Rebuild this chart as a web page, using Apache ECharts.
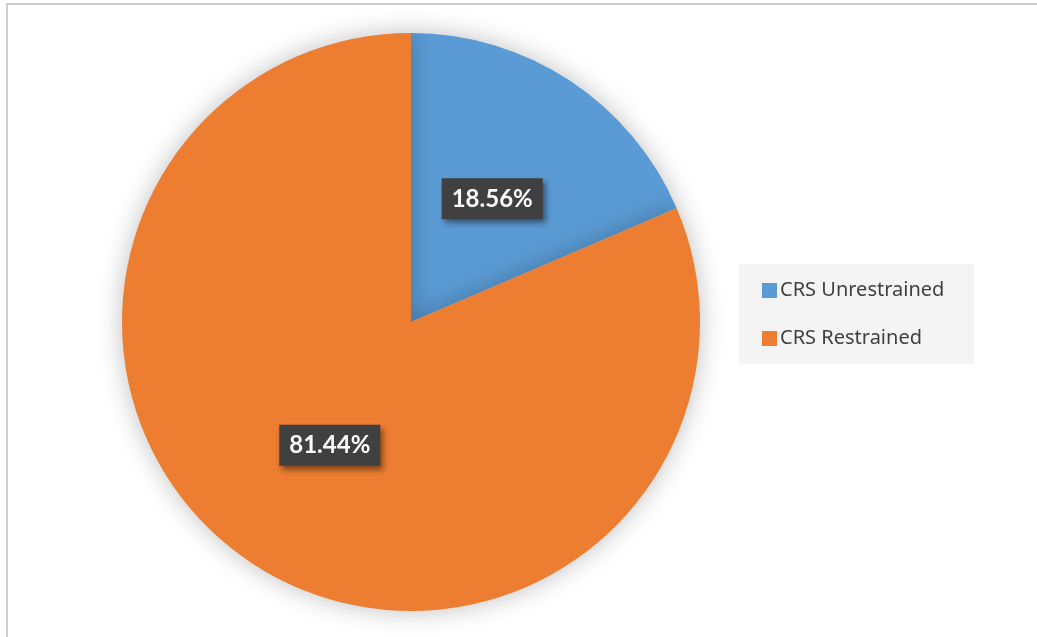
<!DOCTYPE html>
<html>
<head>
<meta charset="utf-8">
<script src="https://cdn.jsdelivr.net/npm/echarts@6/dist/echarts.min.js"></script>
<style>
  html, body { margin: 0; padding: 0; background: #ffffff; }
  #chart { width: 1037px; height: 637px; }
</style>
</head>
<body>
<div id="chart"></div>
<script>
// Share of child restraint systems, restrained vs unrestrained
const categories = ['CRS Unrestrained', 'CRS Restrained'];
const shares = [18.56, 81.44];
const colors = ['#5B9BD5', '#ED7D31'];

const chart = echarts.init(document.getElementById('chart'), null, { renderer: 'canvas' });

const pieData = categories.map((name, i) => ({
  name: name,
  value: shares[i],
  itemStyle: { color: colors[i] }
}));

chart.setOption({
  animation: false,
  backgroundColor: '#ffffff',
  graphic: [
    {
      type: 'rect',
      shape: { x: 7, y: 4, width: 1040, height: 640 },
      style: { fill: 'none', stroke: '#bfbfbf', lineWidth: 1.5 },
      z: 0
    },
    {
      type: 'rect',
      shape: { x: 739, y: 264, width: 235, height: 100 },
      style: { fill: '#f4f4f4' },
      z: 0
    }
  ],
  legend: {
    orient: 'vertical',
    left: 762,
    top: 280,
    itemWidth: 15,
    itemHeight: 15,
    itemGap: 27,
    icon: 'rect',
    padding: 0,
    textStyle: {
      fontFamily: 'Noto Sans',
      fontSize: 20,
      color: '#404040',
      lineHeight: 21,
      padding: [0, 0, 0, -2]
    },
    data: categories
  },
  series: [{
    type: 'pie',
    center: [411, 322],
    radius: [0, 289],
    startAngle: 90,
    clockwise: true,
    itemStyle: {
      shadowBlur: 26,
      shadowColor: 'rgba(0,0,0,0.25)'
    },
    label: {
      show: true,
      position: 'inside',
      formatter: p => p.value.toFixed(2) + '%',
      fontFamily: 'Lato',
      fontWeight: 'bold',
      fontSize: 24,
      color: '#ffffff',
      backgroundColor: '#404040',
      padding: [9, 10, 8, 10],
      shadowColor: 'rgba(0,0,0,0.45)',
      shadowBlur: 6,
      shadowOffsetX: 3,
      shadowOffsetY: 4
    },
    labelLine: { show: false },
    emphasis: { disabled: true },
    data: pieData
  }]
});
</script>
</body>
</html>
